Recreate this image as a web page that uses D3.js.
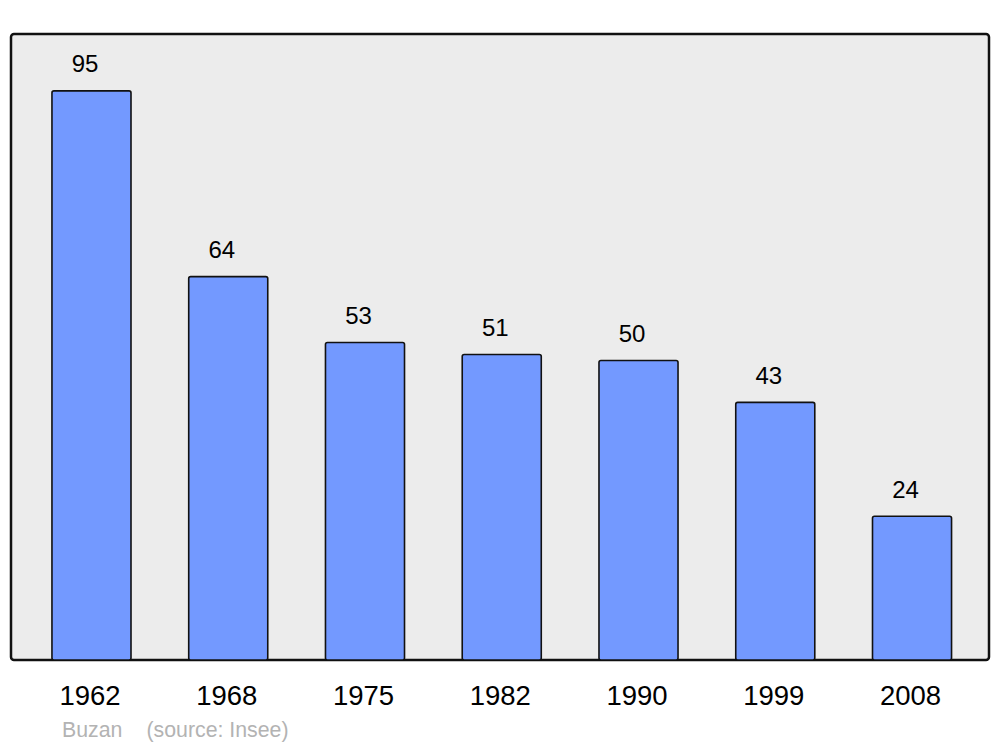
<!DOCTYPE html>
<html><head><meta charset="utf-8">
<script src="https://cdn.jsdelivr.net/npm/d3@7"></script>
<style>html,body{margin:0;padding:0;background:#fff;}</style>
</head><body>
<svg id="c" width="1000" height="747"></svg>
<script>
const years = ["1962","1968","1975","1982","1990","1999","2008"];
const values = [95,64,53,51,50,43,24];
const place = "Buzan";
const source = "(source: Insee)";

const svg = d3.select("#c");
const font = "Liberation Sans, Arial, sans-serif";

const x = d3.scaleBand().domain(years).range([23.1, 980.4]).paddingInner(0.422).paddingOuter(0.211);
const y = d3.scaleLinear().domain([0, 104.5]).range([660, 34]);

svg.append("rect").attr("x",11).attr("y",34).attr("width",978).attr("height",626)
  .attr("rx",3).attr("fill","#ececec").attr("stroke","#111").attr("stroke-width",2.5);

svg.selectAll("rect.bar").data(values).enter().append("rect").attr("class","bar")
  .attr("x",(d,i)=>x(years[i]))
  .attr("y",d=>y(d))
  .attr("width",x.bandwidth())
  .attr("height",d=>y(0)-y(d))
  .attr("rx",2)
  .attr("fill","#7399ff").attr("stroke","#111").attr("stroke-width",1.6);

svg.selectAll("text.val").data(values).enter().append("text").attr("class","val")
  .attr("x",(d,i)=>x(years[i])+x.bandwidth()/2-6.5)
  .attr("y",d=>y(d)-18.5)
  .attr("text-anchor","middle").attr("font-family",font).attr("font-size",24)
  .attr("fill","#000").text(d=>d);

svg.selectAll("text.yr").data(years).enter().append("text").attr("class","yr")
  .attr("x",d=>x(d)+x.bandwidth()/2-1.5)
  .attr("y",705)
  .attr("text-anchor","middle").attr("font-family",font).attr("font-size",27.5)
  .attr("fill","#000").text(d=>d);

svg.append("text").attr("x",62).attr("y",737).attr("font-family",font).attr("font-size",21.3)
  .attr("fill","#b3b3b3").text(place);
svg.append("text").attr("x",146.5).attr("y",737).attr("font-family",font).attr("font-size",21.3)
  .attr("fill","#b3b3b3").text(source);
</script>
</body></html>
